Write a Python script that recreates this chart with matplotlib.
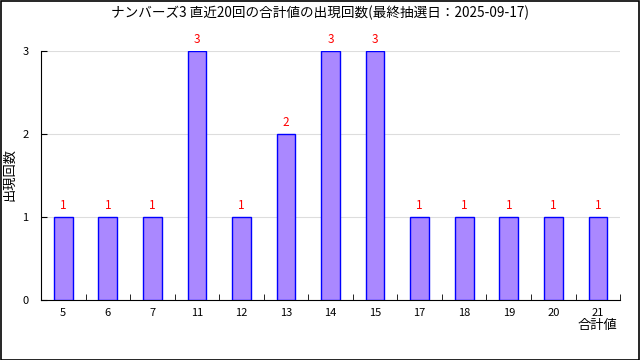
import matplotlib
matplotlib.use("Agg")
import matplotlib.pyplot as plt
import numpy as np

plt.rcParams["font.family"] = ["Noto Sans CJK JP", "DejaVu Sans"]

# ── data ──────────────────────────────────────────────────────────────
sums = ["5", "6", "7", "11", "12", "13", "14", "15", "17", "18", "19", "20", "21"]
counts = [1, 1, 1, 3, 1, 2, 3, 3, 1, 1, 1, 1, 1]
title = "ナンバーズ3 直近20回の合計値の出現回数(最終抽選日：2025-09-17)"

fig = plt.figure(figsize=(6.4, 3.6), dpi=100)
ax = fig.add_axes([0.064, 0.1667, 0.905, 0.6916])

x = np.arange(len(sums))
ax.bar(x, counts, width=0.42, color="#aa88ff", edgecolor="#0000ff",
       linewidth=1.0, zorder=3)
for xi, c in zip(x, counts):
    ax.text(xi, c + 0.06, str(c), ha="center", va="bottom",
            color="#ff0000", fontsize=8.5)

ax.set_xlim(-0.5, len(sums) - 0.5)
ax.set_ylim(0, 3)
ax.set_yticks([0, 1, 2, 3])
ax.tick_params(axis="y", direction="in", length=4, labelsize=8, pad=9)
ax.set_xticks(x)
ax.set_xticklabels(sums)
ax.tick_params(axis="x", length=0, labelsize=8, pad=6)
ax.set_xticks(np.arange(0.5, len(sums), 1.0), minor=True)
ax.tick_params(axis="x", which="minor", direction="in", length=4)
ax.grid(axis="y", color="#dddddd", linewidth=0.8, zorder=0)
ax.spines[["top", "right"]].set_visible(False)

fig.text(10 / 640, 0.514, "出現回数", rotation=90, ha="center", va="center",
         fontsize=9.5)
ax.text(0.96, -0.078, "合計値", transform=ax.transAxes, ha="center",
        va="top", fontsize=9.5)
fig.text(0.5, 0.965, title, ha="center", va="center", fontsize=9.8)

# frame around the whole image
fig.patches.append(plt.Rectangle((0.001, 0.001), 0.998, 0.997,
                                 transform=fig.transFigure, fill=False,
                                 edgecolor="black", linewidth=1.2))

fig.savefig("out.png", dpi=100)
